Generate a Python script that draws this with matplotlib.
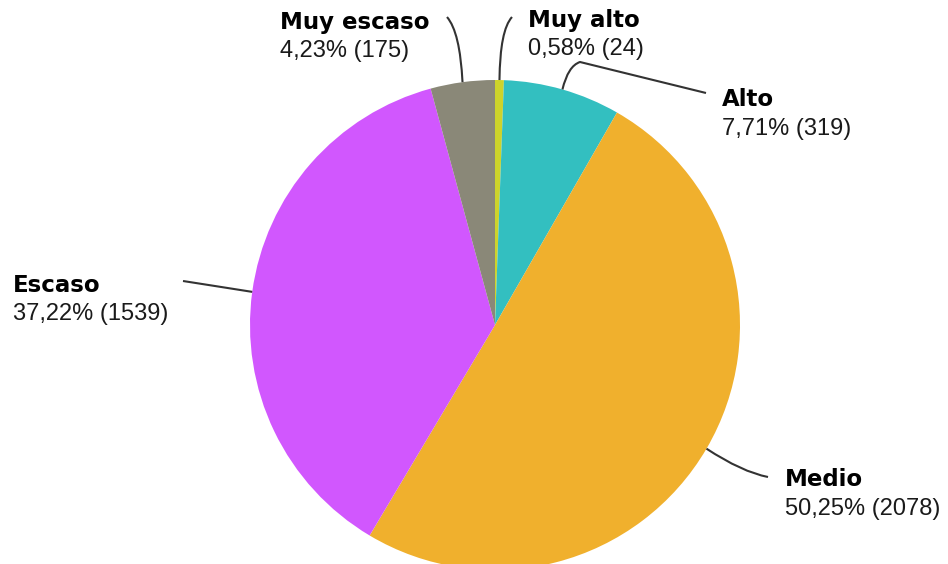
import numpy as np
import matplotlib
matplotlib.use("Agg")
from matplotlib import pyplot as plt
from matplotlib.path import Path
from matplotlib.patches import PathPatch

labels = ["Muy alto", "Alto", "Medio", "Escaso", "Muy escaso"]
counts = [24, 319, 2078, 1539, 175]
pcts = ["0,58%", "7,71%", "50,25%", "37,22%", "4,23%"]
colors = ["#cdd32b", "#33bfc0", "#f0b02d", "#d157fe", "#8a8878"]

W, H = 948, 564
cx, cy, R = 495, 325, 245  # pixel coords, y downward

plt.rcParams['font.family'] = ['Liberation Sans', 'DejaVu Sans']

fig = plt.figure(figsize=(W / 100, H / 100), dpi=100)
ax = fig.add_axes([0, 0, 1, 1])

def py(y):
    return H - y

ax.pie(counts, colors=colors, startangle=90, counterclock=False,
       center=(cx, py(cy)), radius=R, frame=True,
       wedgeprops=dict(linewidth=0))
ax.set_xlim(0, W)
ax.set_ylim(0, H)
ax.axis("off")

# label text positions (left x, first line center y) in pixels
text_pos = {
    "Muy alto": (528, 20),
    "Alto": (722, 100),
    "Medio": (785, 480),
    "Escaso": (13, 285),
    "Muy escaso": (280, 22),
}
# leader line bends (pixel coords), after the anchor on the wedge
bends = {
    "Muy alto": [(500, 30), (512, 17)],
    "Alto": [(568, 66), (580, 62), (706, 93)],
    "Medio": [(742, 472), (768, 477)],
    "Escaso": [(215, 286), (183, 281)],
    "Muy escaso": [(460, 32), (447, 17)],
}

total = sum(counts)
cum = 0
for lab, c, p in zip(labels, counts, pcts):
    mid = (cum + c / 2) / total
    cum += c
    ang = np.deg2rad(90 - 360 * mid)
    ax_ = cx + R * np.cos(ang)
    ay_ = cy - R * np.sin(ang)
    pts = [(ax_, ay_)] + bends[lab]
    if len(pts) == 3:
        codes = [Path.MOVETO, Path.CURVE3, Path.CURVE3]
    elif len(pts) == 4:
        codes = [Path.MOVETO, Path.CURVE3, Path.CURVE3, Path.LINETO]
    else:
        codes = [Path.MOVETO] + [Path.LINETO] * (len(pts) - 1)
    path = Path([(x, py(y)) for x, y in pts], codes)
    ax.add_patch(PathPatch(path, fill=False, edgecolor="#333333", lw=1.5))

    tx, ty = text_pos[lab]
    ax.text(tx, py(ty), lab, fontsize=16.5, fontweight="bold", color="#000000",
            family=["DejaVu Sans"], ha="left", va="center")
    ax.text(tx, py(ty + 29), "%s (%d)" % (p, c), fontsize=17, color="#1a1a1a",
            ha="left", va="center")

fig.savefig("out.png", dpi=100)
